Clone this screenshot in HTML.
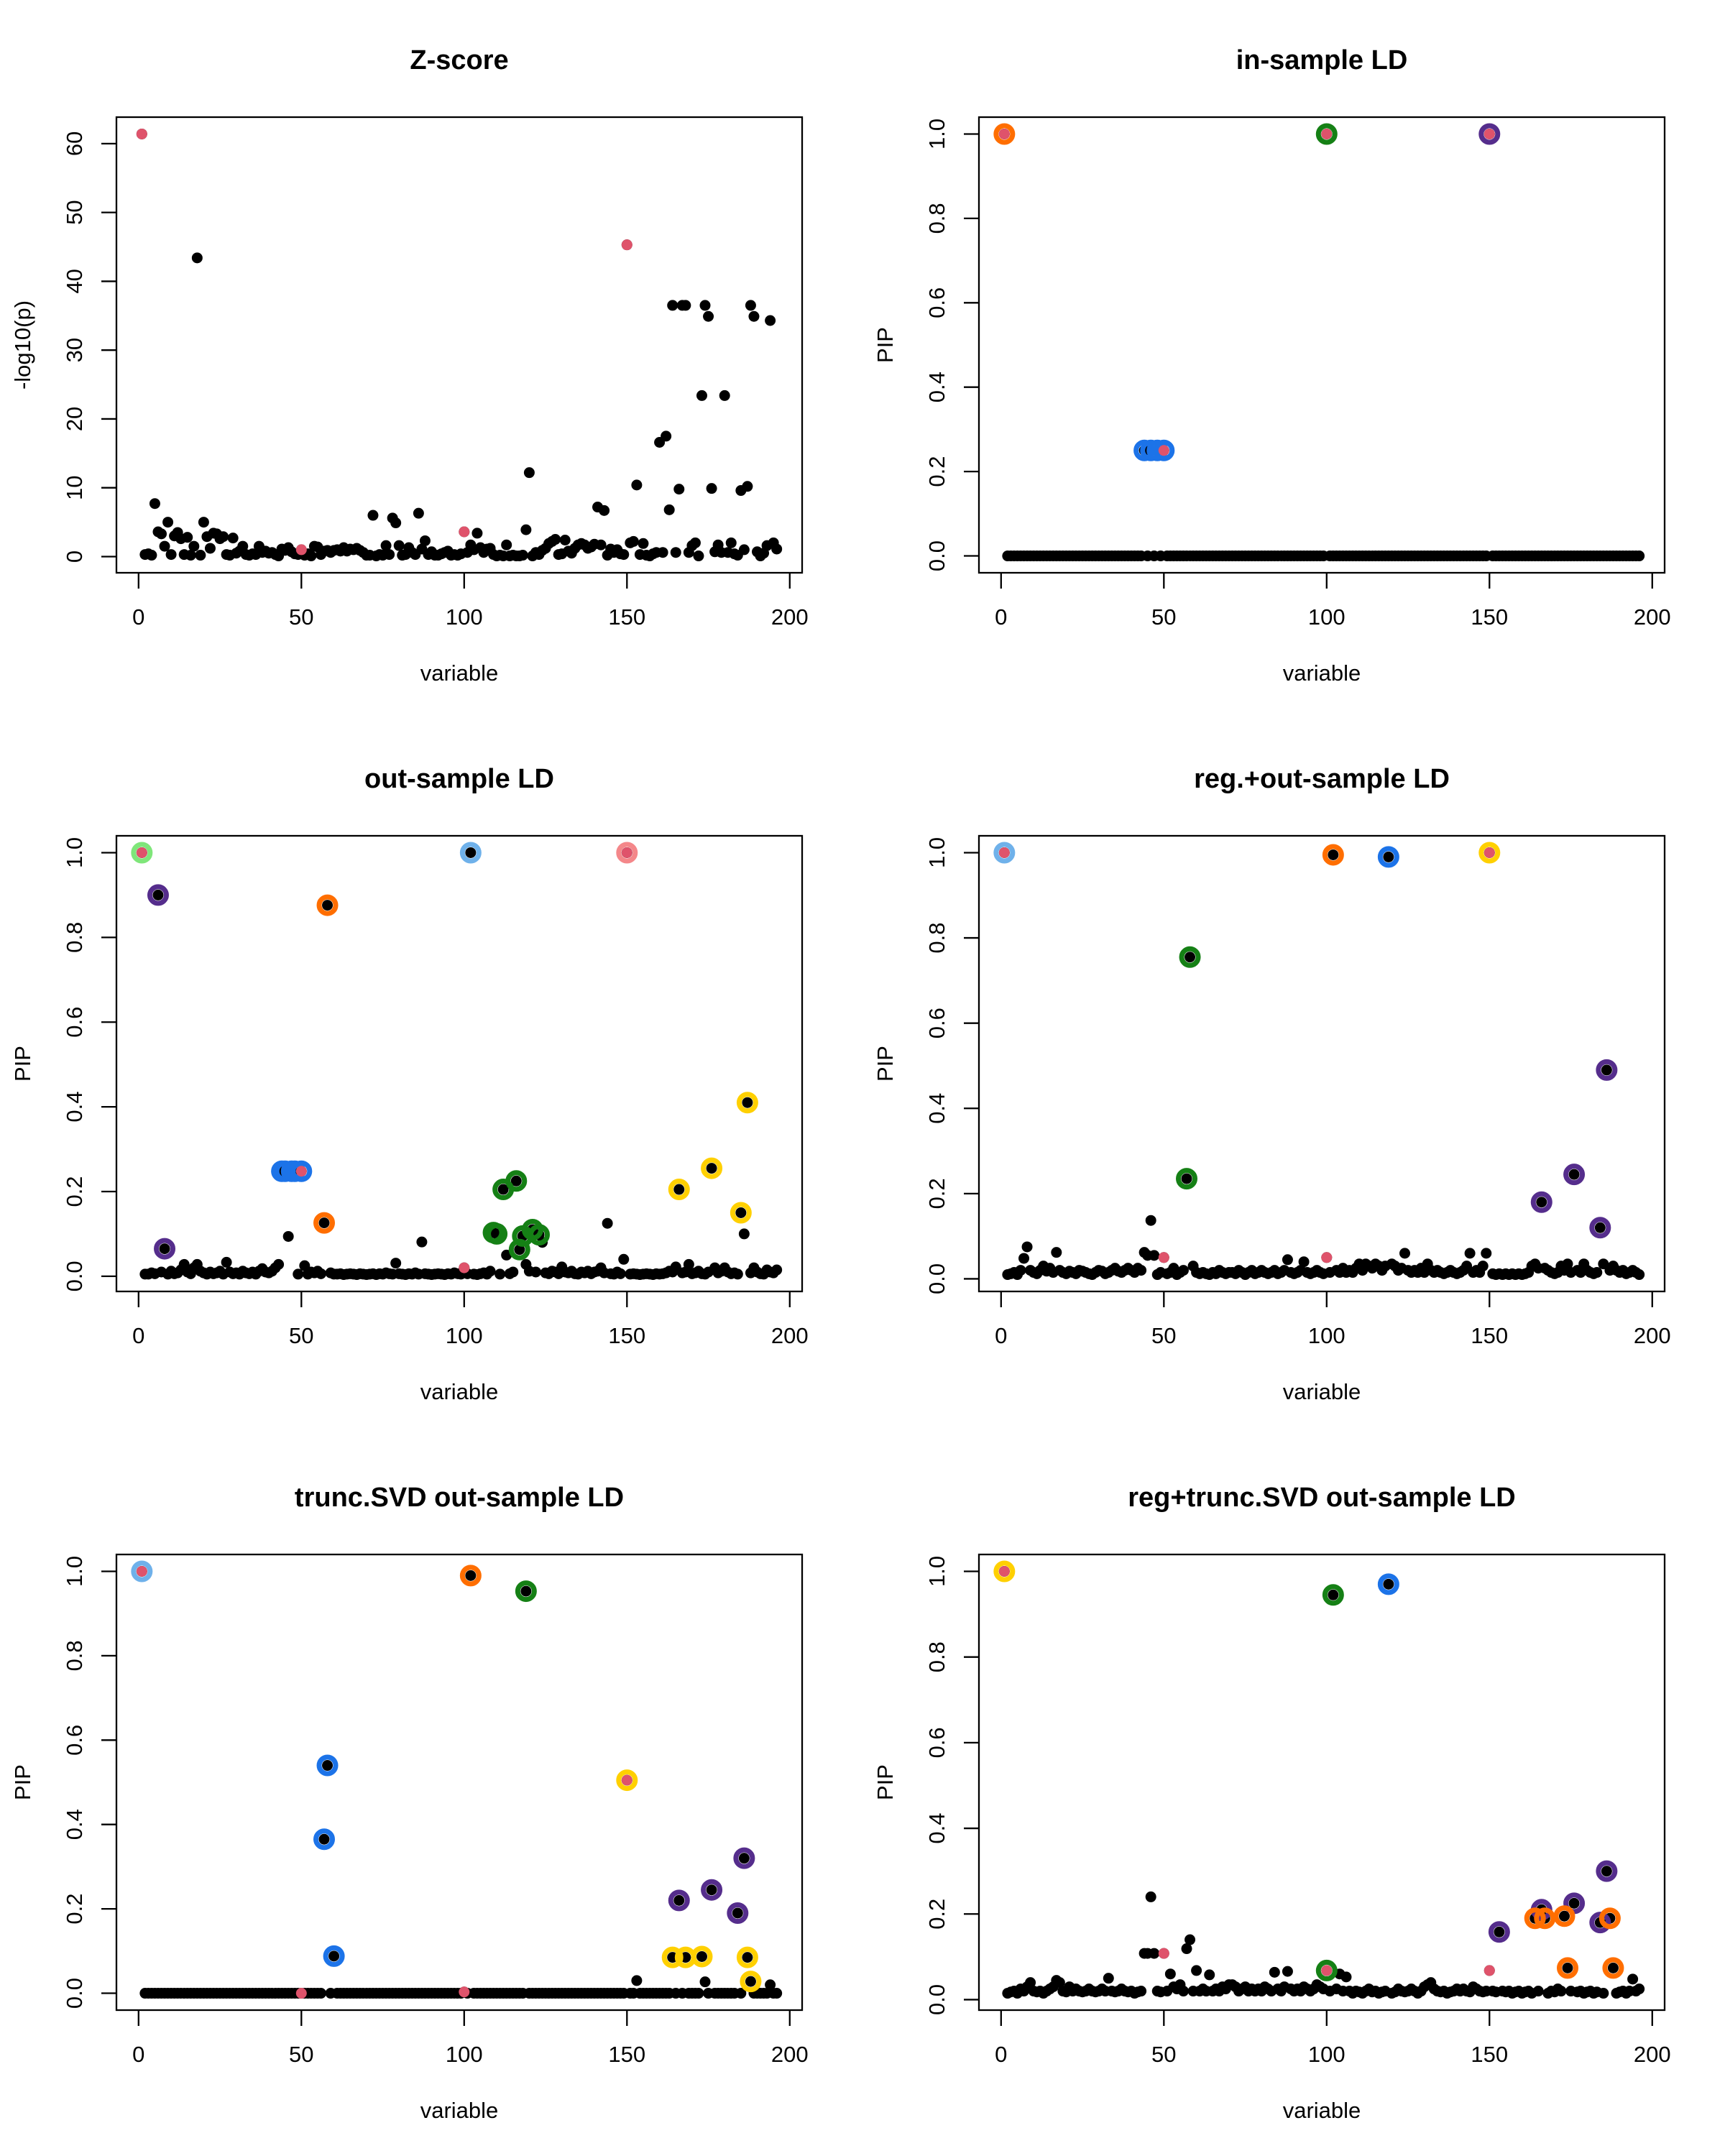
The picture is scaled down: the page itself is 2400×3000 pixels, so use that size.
<!DOCTYPE html>
<html><head><meta charset="utf-8"><style>
html,body{margin:0;padding:0;background:#fff;}
svg{display:block;font-family:"Liberation Sans",Arial,sans-serif;}
</style></head><body>
<svg id="fig" width="2400" height="3000" viewBox="0 0 2400 3000" xmlns="http://www.w3.org/2000/svg"></svg>
<script>
// ---------- data ----------
const xTicks = [0,50,100,150,200];
const zTicks = [0,10,20,30,40,50,60];
const pipTicks = [0,0.2,0.4,0.6,0.8,1.0];
const pipTickLabels = ["0.0","0.2","0.4","0.6","0.8","1.0"];
const causalIdx = [1,50,100,150];

const zscoreValues = [
61.4,0.3,0.4,0.2,7.7,3.6,3.3,1.5,5.0,0.3,
3.0,3.5,2.6,0.3,2.8,0.2,1.5,43.4,0.2,5.0,
2.9,1.2,3.4,3.3,2.6,2.9,0.3,0.2,2.7,0.5,
0.8,1.5,0.3,0.2,0.4,0.3,1.5,0.6,0.8,0.5,
0.6,0.3,0.1,1.1,0.9,1.3,0.7,0.4,0.3,1.0,
0.2,0.4,0.1,1.5,1.4,0.3,0.8,0.9,0.6,0.9,
1.0,0.8,1.3,0.8,1.1,1.0,1.2,0.9,0.6,0.2,
0.2,6.0,0.1,0.3,0.2,1.6,0.3,5.6,4.9,1.6,
0.2,0.3,1.3,0.6,0.3,6.3,1.1,2.3,0.3,0.7,
0.2,0.2,0.4,0.6,0.8,0.2,0.3,0.2,0.4,3.6,
0.6,1.7,1.0,3.4,1.3,0.6,1.1,1.2,0.3,0.1,
0.2,0.1,1.7,0.1,0.2,0.1,0.1,0.2,3.9,12.2,
0.1,0.6,0.3,0.9,1.2,1.9,2.2,2.5,0.3,0.4,
2.4,0.8,0.5,1.2,1.7,1.9,1.7,1.2,1.4,1.8,
7.2,1.7,6.7,0.2,1.1,0.6,1.0,0.4,0.3,45.3,
2.0,2.2,10.4,0.3,1.9,0.2,0.1,0.4,0.6,16.6,
0.6,17.5,6.8,36.5,0.6,9.8,36.5,36.5,0.6,1.6,
2.0,0.1,23.4,36.5,34.9,9.9,0.7,1.7,0.6,23.4,
0.6,2.0,0.4,0.2,9.6,1.0,10.2,36.5,34.9,0.7,
0.1,0.5,1.6,34.3,2.0,1.1];

// in-sample LD: all zero except these
const inSampleIdx = [1,44,46,48,50,100,150];
const inSampleVal = [1.0,0.25,0.25,0.25,0.25,1.0,1.0];

const outSampleValues = [
1.0,0.005,0.005,0.008,0.006,0.9,0.01,0.065,0.005,0.012,
0.006,0.008,0.015,0.028,0.01,0.006,0.02,0.028,0.012,0.008,
0.005,0.01,0.006,0.008,0.012,0.005,0.033,0.01,0.006,0.008,
0.005,0.012,0.008,0.006,0.01,0.005,0.012,0.018,0.01,0.008,
0.012,0.02,0.028,0.248,0.248,0.094,0.248,0.248,0.005,0.248,
0.025,0.005,0.01,0.008,0.012,0.006,0.126,0.876,0.008,0.005,
0.005,0.006,0.004,0.005,0.006,0.005,0.004,0.006,0.005,0.004,
0.005,0.006,0.004,0.006,0.005,0.008,0.006,0.005,0.031,0.006,
0.005,0.004,0.006,0.005,0.008,0.005,0.081,0.006,0.005,0.004,
0.005,0.006,0.005,0.004,0.006,0.005,0.008,0.006,0.005,0.02,
0.006,1.0,0.005,0.004,0.006,0.008,0.005,0.012,0.103,0.1,
0.005,0.205,0.05,0.006,0.01,0.225,0.063,0.095,0.028,0.012,
0.11,0.01,0.098,0.08,0.008,0.006,0.012,0.01,0.006,0.022,
0.01,0.008,0.012,0.006,0.005,0.01,0.008,0.012,0.006,0.01,
0.012,0.02,0.008,0.125,0.006,0.005,0.01,0.006,0.04,1.0,
0.005,0.006,0.005,0.004,0.005,0.006,0.005,0.004,0.006,0.005,
0.006,0.008,0.012,0.01,0.022,0.205,0.008,0.01,0.028,0.006,
0.008,0.012,0.006,0.005,0.01,0.255,0.02,0.008,0.012,0.02,
0.01,0.006,0.008,0.005,0.15,0.1,0.41,0.008,0.02,0.01,
0.006,0.005,0.015,0.01,0.008,0.015];

const regOutValues = [
1.0,0.01,0.012,0.015,0.01,0.02,0.048,0.075,0.02,0.015,
0.012,0.02,0.03,0.018,0.025,0.015,0.062,0.02,0.015,0.012,
0.018,0.015,0.012,0.02,0.018,0.015,0.012,0.01,0.015,0.02,
0.018,0.012,0.015,0.02,0.025,0.018,0.015,0.02,0.025,0.02,
0.015,0.025,0.02,0.062,0.055,0.137,0.055,0.01,0.015,0.05,
0.012,0.015,0.025,0.01,0.015,0.02,0.235,0.755,0.03,0.015,
0.012,0.015,0.012,0.01,0.015,0.012,0.02,0.015,0.012,0.015,
0.015,0.012,0.02,0.015,0.01,0.015,0.02,0.012,0.015,0.02,
0.015,0.012,0.015,0.02,0.012,0.015,0.02,0.045,0.015,0.012,
0.015,0.02,0.04,0.015,0.012,0.015,0.02,0.015,0.012,0.05,
0.015,0.995,0.02,0.015,0.025,0.015,0.02,0.015,0.025,0.035,
0.02,0.035,0.03,0.025,0.035,0.03,0.02,0.03,0.99,0.035,
0.03,0.02,0.025,0.06,0.02,0.015,0.02,0.015,0.025,0.015,
0.035,0.02,0.015,0.02,0.015,0.012,0.015,0.02,0.015,0.012,
0.015,0.02,0.03,0.06,0.015,0.02,0.015,0.03,0.06,1.0,
0.012,0.01,0.012,0.01,0.012,0.01,0.012,0.01,0.012,0.01,
0.012,0.015,0.03,0.035,0.025,0.18,0.025,0.02,0.015,0.012,
0.015,0.03,0.02,0.035,0.015,0.245,0.02,0.015,0.035,0.02,
0.015,0.012,0.015,0.12,0.035,0.49,0.02,0.03,0.02,0.015,
0.02,0.012,0.015,0.02,0.015,0.01];

// trunc.SVD: zero except these
const truncIdx = [1,50,57,58,60,100,102,119,150,153,164,166,168,173,174,176,184,186,187,188,194];
const truncVal = [1.0,0.0,0.365,0.54,0.088,0.003,0.99,0.953,0.505,0.03,0.085,0.22,0.085,0.087,0.027,0.245,0.19,0.32,0.085,0.028,0.02];

const regTruncValues = [
1.0,0.015,0.018,0.02,0.015,0.025,0.02,0.03,0.04,0.02,
0.018,0.02,0.015,0.02,0.025,0.03,0.045,0.04,0.02,0.018,
0.03,0.02,0.025,0.02,0.018,0.02,0.025,0.02,0.018,0.02,
0.025,0.02,0.05,0.02,0.018,0.02,0.025,0.02,0.018,0.02,
0.015,0.018,0.02,0.108,0.108,0.24,0.108,0.02,0.018,0.108,
0.02,0.06,0.03,0.025,0.035,0.02,0.119,0.14,0.02,0.068,
0.02,0.025,0.02,0.058,0.02,0.025,0.02,0.03,0.025,0.035,
0.035,0.03,0.02,0.025,0.03,0.02,0.025,0.02,0.025,0.02,
0.03,0.025,0.02,0.064,0.025,0.02,0.03,0.066,0.025,0.02,
0.025,0.02,0.03,0.025,0.02,0.025,0.035,0.03,0.025,0.068,
0.02,0.945,0.025,0.06,0.02,0.053,0.02,0.015,0.02,0.018,
0.015,0.02,0.025,0.018,0.02,0.015,0.018,0.02,0.97,0.015,
0.018,0.025,0.02,0.018,0.02,0.025,0.02,0.015,0.02,0.03,
0.035,0.04,0.025,0.02,0.018,0.02,0.015,0.018,0.02,0.025,
0.02,0.025,0.02,0.018,0.03,0.025,0.02,0.018,0.02,0.068,
0.02,0.018,0.158,0.02,0.018,0.02,0.015,0.018,0.02,0.015,
0.018,0.02,0.015,0.19,0.02,0.21,0.19,0.015,0.02,0.018,
0.025,0.02,0.195,0.074,0.02,0.225,0.018,0.02,0.015,0.018,
0.02,0.015,0.018,0.18,0.015,0.3,0.19,0.074,0.015,0.018,
0.02,0.015,0.02,0.048,0.02,0.025];

const C = {orange:"#FF6E00",green:"#158015",blue:"#1C73E8",purple:"#552D8C",yellow:"#FFD000",lgreen:"#7FE67A",lblue:"#6FB1EA",pink:"#F4878A"};
const RED = "#DF536B";

function sparse(idx, val){ const a=[]; for(let i=0;i<196;i++) a.push(0); idx.forEach((k,j)=>{a[k-1]=val[j];}); return a; }

const panels = [
 {name:"zscore", title:"Z-score", ylab:"-log10(p)", col:0,row:0, values:zscoreValues, ticks:zTicks, tickLabels:zTicks.map(String), sets:[]},
 {name:"in-sample", title:"in-sample LD", ylab:"PIP", col:1,row:0, values:sparse(inSampleIdx,inSampleVal), ticks:pipTicks, tickLabels:pipTickLabels,
  sets:[[C.orange,[1]],[C.blue,[44,46,48,50]],[C.green,[100]],[C.purple,[150]]]},
 {name:"out-sample", title:"out-sample LD", ylab:"PIP", col:0,row:1, values:outSampleValues, ticks:pipTicks, tickLabels:pipTickLabels,
  sets:[[C.lgreen,[1]],[C.purple,[6,8]],[C.orange,[57,58]],[C.lblue,[102]],[C.pink,[150]],[C.blue,[44,45,47,48,50]],[C.green,[109,110,112,116,117,118,121,123]],[C.yellow,[166,176,185,187]]]},
 {name:"reg-out-sample", title:"reg.+out-sample LD", ylab:"PIP", col:1,row:1, values:regOutValues, ticks:pipTicks, tickLabels:pipTickLabels,
  sets:[[C.lblue,[1]],[C.orange,[102]],[C.blue,[119]],[C.yellow,[150]],[C.green,[57,58]],[C.purple,[166,176,184,186]]]},
 {name:"trunc-svd", title:"trunc.SVD out-sample LD", ylab:"PIP", col:0,row:2, values:sparse(truncIdx,truncVal), ticks:pipTicks, tickLabels:pipTickLabels,
  sets:[[C.lblue,[1]],[C.orange,[102]],[C.green,[119]],[C.blue,[57,58,60]],[C.yellow,[150,164,168,173,187,188]],[C.purple,[166,176,184,186]]]},
 {name:"reg-trunc-svd", title:"reg+trunc.SVD out-sample LD", ylab:"PIP", col:1,row:2, values:regTruncValues, ticks:pipTicks, tickLabels:pipTickLabels,
  sets:[[C.yellow,[1]],[C.green,[100,102]],[C.blue,[119]],[C.purple,[153,166,176,184,186]],[C.orange,[164,167,173,174,187,188]]]}
];

// ---------- drawing ----------
const NS="http://www.w3.org/2000/svg";
const svg=document.getElementById("fig");
function mk(tag, attrs, parent){ const e=document.createElementNS(NS,tag); for(const k in attrs) e.setAttribute(k,attrs[k]); (parent||svg).appendChild(e); return e; }

const BL=162, BR=1116, BT=163, BB=797;
panels.forEach(p=>{
  const ox=p.col*1200, oy=p.row*1000;
  const g=mk("g",{});
  
  
  const n=p.values.length;
  const xlo=1-0.04*(n-1), xhi=n+0.04*(n-1);
  const vmin=Math.min(...p.values), vmax=Math.max(...p.values), r=vmax-vmin;
  const ylo=vmin-0.04*r, yhi=vmax+0.04*r;
  const X=v=>ox+BL+(v-xlo)/(xhi-xlo)*(BR-BL);
  const Y=v=>oy+BB-(v-ylo)/(yhi-ylo)*(BB-BT);

  const t=mk("text",{x:ox+(BL+BR)/2,y:oy+96,"text-anchor":"middle","font-size":"38","font-weight":"bold"},g);
  t.textContent=p.title;
  
  

  const xl=mk("text",{x:ox+(BL+BR)/2,y:oy+947,"text-anchor":"middle","font-size":"31"},g);
  xl.textContent="variable";
  
  

  const yl=mk("text",{x:0,y:0,"text-anchor":"middle","font-size":"31",transform:`translate(${ox+42},${oy+(BT+BB)/2}) rotate(-90)`},g);
  yl.textContent=p.ylab;
  
  

  xTicks.forEach(v=>{
    const l=mk("line",{x1:X(v),x2:X(v),y1:oy+BB,y2:oy+BB+22,stroke:"#000","stroke-width":"2.3"},g);
    
    
    const tl=mk("text",{x:X(v),y:oy+869,"text-anchor":"middle","font-size":"31"},g);
    tl.textContent=String(v);
    
    
  });
  p.ticks.forEach((v,i)=>{
    const l=mk("line",{x1:ox+BL-21,x2:ox+BL,y1:Y(v),y2:Y(v),stroke:"#000","stroke-width":"2.3"},g);
    
    
    const tl=mk("text",{x:0,y:0,"text-anchor":"middle","font-size":"31",transform:`translate(${ox+114},${Y(v)}) rotate(-90)`},g);
    tl.textContent=p.tickLabels[i];
    
    
  });

  p.values.forEach((v,i)=>{
    const c=mk("circle",{cx:X(i+1),cy:Y(v),r:7.5,fill:"#000"},g);
    
    
  });
  p.sets.forEach(([col,idx])=>{
    idx.forEach(k=>{
      const c=mk("circle",{cx:X(k),cy:Y(p.values[k-1]),r:11.5,fill:"none",stroke:col,"stroke-width":"7"},g);
      
      
    });
  });
  causalIdx.forEach(k=>{
    const c=mk("circle",{cx:X(k),cy:Y(p.values[k-1]),r:7.5,fill:RED},g);
    
    
  });

  const b=mk("rect",{x:ox+BL,y:oy+BT,width:BR-BL,height:BB-BT,fill:"none",stroke:"#000","stroke-width":"2.3"},g);
  
  
});
</script>
</body></html>
